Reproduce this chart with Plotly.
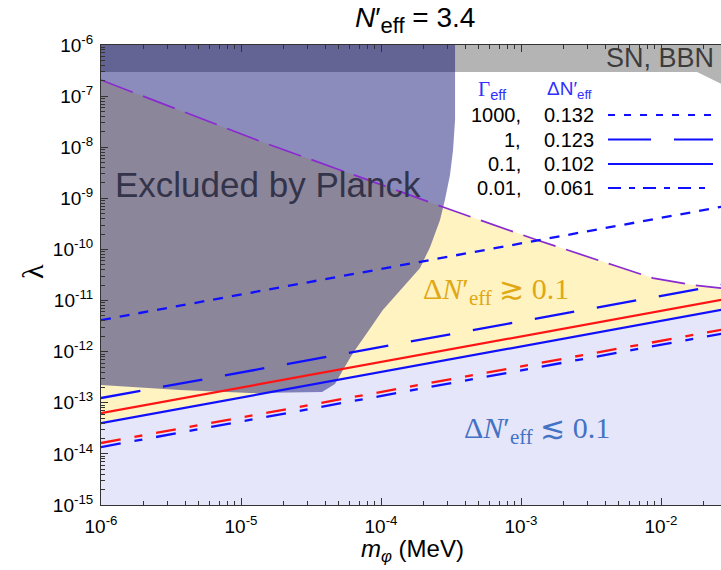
import plotly.graph_objects as go

# ---------------- data ----------------
x_ticks = [1e-6, 1e-5, 1e-4, 1e-3, 1e-2]
x_ticktext = ["10<sup>-6</sup>", "10<sup>-5</sup>", "10<sup>-4</sup>", "10<sup>-3</sup>", "10<sup>-2</sup>"]
y_ticks = [1e-15, 1e-14, 1e-13, 1e-12, 1e-11, 1e-10, 1e-9, 1e-8, 1e-7, 1e-6]
y_ticktext = ["10<sup>-15</sup>", "10<sup>-14</sup>", "10<sup>-13</sup>", "10<sup>-12</sup>",
              "10<sup>-11</sup>", "10<sup>-10</sup>", "10<sup>-9</sup>", "10<sup>-8</sup>",
              "10<sup>-7</sup>", "10<sup>-6</sup>"]

# straight power-law curves: values at the two ends of the mass range
line_m = [1e-6, 3e-2]
lam_g1000 = [4.15e-12, 7.19e-10]     # Gamma_eff = 1000, dN = 0.132
lam_g1 = [1.24e-13, 2.14e-11]        # Gamma_eff = 1,    dN = 0.123
lam_g01 = [4.01e-14, 6.95e-12]       # Gamma_eff = 0.1,  dN = 0.102
lam_g001 = [1.36e-14, 2.36e-12]      # Gamma_eff = 0.01, dN = 0.061
lam_red_solid = [6.28e-14, 1.09e-11]
lam_red_dashdot = [1.63e-14, 2.82e-12]

# purple dashed upper boundary
purple_m = [1.0e-6, 1.30e-5, 2.77e-4, 1.30e-3, 4.54e-3, 8.77e-3, 1.69e-2, 2.69e-2, 3.0e-2]
purple_lam = [2.07e-7, 1.38e-8, 6.76e-10, 1.53e-10, 4.95e-11, 2.75e-11, 2.01e-11, 1.76e-11, 1.70e-11]

# Planck excluded region boundary
planck_m = [1e-6, 3.38e-4, 3.38e-4, 3.27e-4, 3.11e-4, 2.86e-4, 2.64e-4, 2.24e-4, 1.90e-4,
            1.44e-4, 1.03e-4, 7.94e-5, 6.31e-5, 5.35e-5, 4.69e-5, 3.79e-5, 1.16e-5, 3.66e-6, 1e-6]
planck_lam = [1e-6, 1e-6, 3.40e-8, 8.81e-9, 2.86e-9, 9.27e-10, 3.76e-10, 1.11e-10, 4.33e-11,
              1.84e-11, 6.52e-12, 2.31e-12, 9.39e-13, 4.37e-13, 2.32e-13, 1.62e-13, 1.55e-13,
              1.77e-13, 2.22e-13]

# SN, BBN excluded band (lower edge)
snbbn_m = [1e-6, 1.81e-2, 2.69e-2, 3.0e-2]
snbbn_lam = [2.96e-7, 2.96e-7, 1.73e-7, 1.48e-7]

legend_gamma = ["1000,", "1,", "0.1,", "0.01,"]
legend_dn = ["0.132", "0.123", "0.102", "0.061"]

# ---------------- styling ----------------
SANS = "Liberation Sans, Arial, sans-serif"
SERIF = "Liberation Serif, DejaVu Serif, serif"
BLUE = "#1010ff"
RED = "#ff1414"
PURPLE = "#8a2ad0"
AX = "#333333"

# plot-area edges in page pixels
L, R, T, B = 101, 721, 45, 505
W, H = 721, 570


def px(xp):
    return (xp - L) / (R - L)


def py(yp):
    return (B - yp) / (B - T)


fig = go.Figure()

# lavender region below the Gamma=0.1 line
fig.add_trace(go.Scatter(x=line_m + [line_m[-1], line_m[0]],
                         y=lam_g01 + [1e-16, 1e-16],
                         fill="toself", fillcolor="#e6e6fa", mode="lines",
                         line=dict(width=0), hoverinfo="skip"))
# yellow region between Gamma=0.1 line and purple boundary
fig.add_trace(go.Scatter(x=purple_m + line_m[::-1],
                         y=purple_lam + lam_g01[::-1],
                         fill="toself", fillcolor="#fff3c2", mode="lines",
                         line=dict(width=0), hoverinfo="skip"))
# SN, BBN band
fig.add_trace(go.Scatter(x=snbbn_m + [snbbn_m[-1], snbbn_m[0]],
                         y=snbbn_lam + [1e-6, 1e-6],
                         fill="toself", fillcolor="#b4b4b4", mode="lines",
                         line=dict(width=0), hoverinfo="skip"))
# Planck region (translucent)
fig.add_trace(go.Scatter(x=planck_m, y=planck_lam,
                         fill="toself", fillcolor="rgba(9,9,111,0.467)", mode="lines",
                         line=dict(width=0), hoverinfo="skip"))

# curves
fig.add_trace(go.Scatter(x=purple_m, y=purple_lam, mode="lines",
                         line=dict(color=PURPLE, width=1.7, dash="34px,11px")))
fig.add_trace(go.Scatter(x=line_m, y=lam_red_dashdot, mode="lines",
                         line=dict(color=RED, width=2.3, dash="20px,14px,8px,14px")))
fig.add_trace(go.Scatter(x=line_m, y=lam_g001, mode="lines",
                         line=dict(color=BLUE, width=2.3, dash="20px,14px,8px,14px")))
fig.add_trace(go.Scatter(x=line_m, y=lam_red_solid, mode="lines",
                         line=dict(color=RED, width=2.2)))
fig.add_trace(go.Scatter(x=line_m, y=lam_g01, mode="lines",
                         line=dict(color=BLUE, width=2.2)))
fig.add_trace(go.Scatter(x=line_m, y=lam_g1, mode="lines",
                         line=dict(color=BLUE, width=2.3, dash="40px,23px")))
fig.add_trace(go.Scatter(x=line_m, y=lam_g1000, mode="lines",
                         line=dict(color=BLUE, width=2.3, dash="10px,9px")))

x_minor = [k * 10.0 ** e for e in range(-6, -1) for k in range(2, 10)]
y_minor = [k * 10.0 ** e for e in range(-15, -6) for k in range(2, 10)]

fig.update_layout(
    width=W, height=H,
    margin=dict(l=L, r=W - R, t=T, b=H - B, pad=0),
    plot_bgcolor="white", paper_bgcolor="white",
    showlegend=False,
    font=dict(family=SANS, color="black", size=19),
    xaxis=dict(type="log", range=[-6, -6 + 620 / 140], tickvals=x_ticks, ticktext=x_ticktext,
               ticks="inside", ticklen=7, tickwidth=1, tickcolor=AX,
               showline=True, linecolor=AX, linewidth=1, mirror="ticks",
               showgrid=False, zeroline=False, tickfont=dict(size=19, color="black"),
               ticklabelstandoff=4,
               minor=dict(tickmode="array", tickvals=x_minor, ticks="inside", ticklen=4,
                          tickcolor=AX, showgrid=False)),
    yaxis=dict(type="log", range=[-15, -6], tickvals=y_ticks, ticktext=y_ticktext,
               ticks="inside", ticklen=7, tickwidth=1, tickcolor=AX,
               showline=True, linecolor=AX, linewidth=1, mirror=False,
               showgrid=False, zeroline=False, tickfont=dict(size=19, color="black"),
               ticklabelstandoff=3,
               minor=dict(tickmode="array", tickvals=y_minor, ticks="inside", ticklen=4,
                          tickcolor=AX, showgrid=False)),
)

ann = []


def add_text(text, xp, yp, size, color="black", family=SANS, xanchor="center",
             yanchor="middle", angle=0):
    ann.append(dict(text=text, x=px(xp), y=py(yp), xref="paper", yref="paper",
                    showarrow=False, xanchor=xanchor, yanchor=yanchor, textangle=angle,
                    font=dict(size=size, color=color, family=family)))


# titles
add_text("<i>N</i>′<sub><span style='font-size:22px'>eff</span></sub> = 3.4", 415, 20, 28)
add_text("<i>m</i><sub><i>φ</i></sub> (MeV)", 413, 550, 24)
add_text("λ", 32, 272, 30, family=SERIF, angle=-90)

# region labels
add_text("Excluded by Planck", 113, 184, 35, color="#33334a", xanchor="left")
add_text("SN, BBN", 716, 58, 27, color="#3c3c3c", xanchor="right")
add_text("Δ<i>N</i>′<sub>eff</sub> ≳ 0.1", 496, 291, 30, color="#e0a812", family=SERIF)
add_text("Δ<i>N</i>′<sub>eff</sub> ≲ 0.1", 537, 430, 30, color="#4472c4", family=SERIF)

# legend header
add_text("<span style='font-family:Liberation Serif'>Γ</span><sub>eff</sub>", 493, 90, 21,
         color="#3030ff")
add_text("ΔN′<sub>eff</sub>", 569, 90, 19, color="#3030ff")

row_y = [115, 139.5, 164, 188]
legend_dash = ["7px,9px", "43px,23px", "solid", "13px,8px,6px,8px"]
shapes = []
for g, d, yy, ds in zip(legend_gamma, legend_dn, row_y, legend_dash):
    add_text(g, 523, yy, 20, xanchor="right")
    add_text(d, 542, yy, 20, xanchor="left")
    shapes.append(dict(type="line", xref="paper", yref="paper",
                       x0=px(608), x1=px(713), y0=py(yy), y1=py(yy),
                       line=dict(color=BLUE, width=2.2, dash=ds)))

fig.update_layout(annotations=ann, shapes=shapes)

# place the figure at the page's top-left corner with no scrollbars
page_fix = ("document.body.style.margin='0';document.body.style.overflow='hidden';"
            "document.documentElement.style.overflow='hidden';")
fig.write_html("out.html", post_script=page_fix,
               config={"displayModeBar": False, "staticPlot": True})
